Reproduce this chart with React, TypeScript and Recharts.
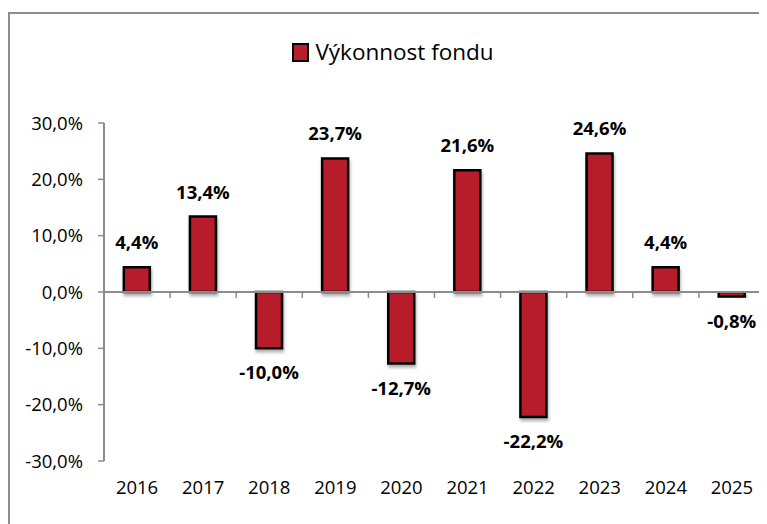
import React from 'react';
import { Bar, BarChart, LabelList, Legend, ReferenceLine, XAxis, YAxis } from 'recharts';

const years = ['2016', '2017', '2018', '2019', '2020', '2021', '2022', '2023', '2024', '2025'];
const performance = [4.4, 13.4, -10.0, 23.7, -12.7, 21.6, -22.2, 24.6, 4.4, -0.8];
const yTicks = [-30, -20, -10, 0, 10, 20, 30];
const seriesName = 'Výkonnost fondu';

const data = years.map((year, i) => ({ year, value: performance[i] }));

const fmt = (v: number) => `${Number(v).toFixed(1).replace('.', ',')}%`;

const FONT = '"Open Sans", sans-serif';
const AXIS_GRAY = '#8c8c8c';
const BAR_RED = '#B71F2A';

// zero line with the small category boundary ticks under it
const ZeroLine = (props: any) => {
  const { x1, y1, x2, y2 } = props;
  const step = (x2 - x1) / years.length;
  return (
    <g>
      <line x1={x1} y1={y1} x2={x2} y2={y2} stroke={AXIS_GRAY} strokeWidth={2} />
      {[...years, ''].map((_, i) => (
        <line key={i} x1={x1 + i * step} x2={x1 + i * step} y1={y1} y2={y1 + 6} stroke={AXIS_GRAY} strokeWidth={1.5} />
      ))}
    </g>
  );
};

const LegendContent = (props: any) => {
  const { payload = [] } = props;
  return (
    <div style={{ height: 115, boxSizing: 'border-box', paddingTop: 34 }}>
      {payload.map((entry: any) => (
        <div key={entry.value} style={{ display: 'flex', alignItems: 'center', justifyContent: 'center', height: 20 }}>
          <span style={{ width: 13, height: 15, background: BAR_RED, border: '2px solid #000', marginRight: 6 }} />
          <span style={{ fontFamily: FONT, fontSize: 22.5, color: '#000', lineHeight: '20px' }}>{entry.value}</span>
        </div>
      ))}
    </div>
  );
};

export default function App() {
  return (
    <div style={{ position: 'relative', width: 759, height: 516, overflow: 'hidden', fontFamily: FONT }}>
      <div
        style={{
          position: 'absolute',
          left: 0,
          top: 4,
          width: 2000,
          height: 2000,
          borderLeft: `2px solid ${AXIS_GRAY}`,
          borderTop: `2px solid ${AXIS_GRAY}`,
        }}
      />
      <div style={{ position: 'absolute', left: 0, top: 0 }}>
        <BarChart width={770} height={516} data={data} margin={{ top: 0, right: 13, bottom: 23, left: 0 }} barCategoryGap='30%'>
          <defs>
            <filter id='barShadow' x='-20%' y='-20%' width='150%' height='150%'>
              <feDropShadow dx={1} dy={3} stdDeviation={1.5} floodColor='#000' floodOpacity={0.3} />
            </filter>
          </defs>
          <Legend
            verticalAlign='top'
            align='center'
            content={<LegendContent />}
            wrapperStyle={{ left: 0, top: 0, width: 770 }}
          />
          <XAxis
            dataKey='year'
            axisLine={false}
            tickLine={false}
            tickSize={0}
            tickMargin={20}
            height={40}
            interval={0}
            tick={{ fontSize: 18.5, fill: '#000', fontFamily: FONT }}
          />
          <YAxis
            domain={[-30, 30]}
            ticks={yTicks}
            width={96}
            tickFormatter={fmt}
            axisLine={{ stroke: AXIS_GRAY, strokeWidth: 2 }}
            tickLine={{ stroke: AXIS_GRAY, strokeWidth: 1.5 }}
            tickSize={6}
            tickMargin={15}
            tick={{ fontSize: 18.5, fill: '#000', fontFamily: FONT }}
          />
          <ReferenceLine y={0} shape={<ZeroLine />} />
          <Bar
            dataKey='value'
            name={seriesName}
            fill={BAR_RED}
            stroke='#000'
            strokeWidth={2.5}
            filter='url(#barShadow)'
            isAnimationActive={false}
          >
            <LabelList
              dataKey='value'
              position='top'
              offset={18}
              formatter={fmt}
              fill='#000'
              fontSize={18.5}
              fontWeight={700}
              fontFamily={FONT}
            />
          </Bar>
        </BarChart>
      </div>
    </div>
  );
}
